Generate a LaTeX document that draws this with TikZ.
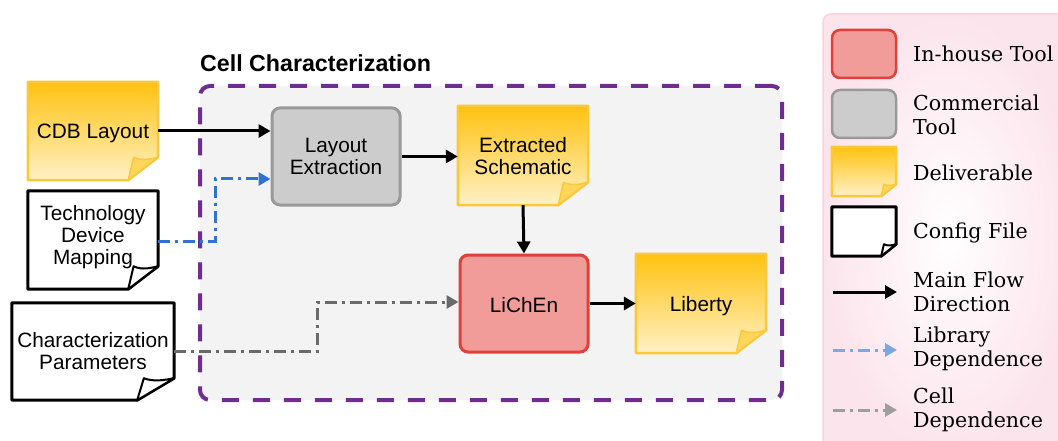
\documentclass[tikz,border=0pt]{standalone}
\usepackage{fontspec}
\setmainfont{Liberation Sans}
\newfontfamily\legfont{DejaVu Serif}
\usetikzlibrary{arrows.meta,calc}
\pgfdeclarelayer{back}\pgfdeclarelayer{mid}\pgfsetlayers{back,mid,main}
\definecolor{yelA}{HTML}{FFC20F}
\definecolor{yelB}{HTML}{FFF1C6}
\definecolor{yelE}{HTML}{F9C93A}
\definecolor{yelF}{HTML}{FFD65A}
\definecolor{redF}{HTML}{F19C99}
\definecolor{redE}{HTML}{E0403A}
\definecolor{grayF}{HTML}{CCCCCC}
\definecolor{grayE}{HTML}{999999}
\definecolor{purp}{HTML}{6F2D90}
\definecolor{contbg}{HTML}{F3F3F3}
\definecolor{blueA}{HTML}{2F72D0}
\definecolor{blueL}{HTML}{7BA7E3}
\definecolor{grayA}{HTML}{6A6A6A}
\definecolor{grayL}{HTML}{9E9E9E}
\definecolor{legE}{HTML}{F9D3DC}
\definecolor{legO}{HTML}{FCE4EC}
% #1 node, #2 fold width, #3 fold height, #4 body style, #5 flap style
\newcommand\foldshape[5]{%
  \begin{pgfonlayer}{mid}
  \path[#4] (#1.north west) -- (#1.north east) -- ([yshift=#3pt]#1.south east)
     -- ([xshift=-#2pt]#1.south east) -- (#1.south west) -- cycle;
  \path[#5] ([xshift=-#2pt]#1.south east) -- ([xshift={-0.82*#2pt},yshift=#3pt]#1.south east)
     .. controls ([xshift={-0.55*#2pt},yshift={0.82*#3pt}]#1.south east)
     and ([xshift={-0.25*#2pt},yshift={0.92*#3pt}]#1.south east) .. ([yshift=#3pt]#1.south east) -- cycle;
  \end{pgfonlayer}}
\tikzset{
  txt/.style={font=\fontsize{20.8}{22}\selectfont, align=center, inner sep=0pt},
  legtxt/.style={font=\legfont\fontsize{20.6}{24}\selectfont, align=left, anchor=west, inner sep=0pt},
  tool/.style={txt, rounded corners=8pt, line width=3pt, minimum width=128pt, minimum height=97pt},
  inhouse/.style={tool, fill=redF, draw=redE},
  commercial/.style={tool, fill=grayF, draw=grayE},
  docbox/.style={txt, minimum width=130pt, minimum height=98pt},
  delivbody/.style={top color=yelA, bottom color=yelB, draw=yelE, line width=2.5pt, line join=round},
  delivflap/.style={fill=yelF, draw=yelE, line width=1.5pt, line join=round},
  cfgbody/.style={fill=white, draw=black, line width=3pt, line join=round},
  cfgflap/.style={fill=white, draw=black, line width=2pt, line join=round},
  tipA/.style={-{Triangle[length=12pt,width=13pt]}},
  mainflow/.style={draw=black, line width=3pt, tipA},
  libdep/.style={draw=blueA, line width=3pt, dash pattern=on 12pt off 5pt on 3pt off 5pt, tipA},
  celldep/.style={draw=grayA, line width=3pt, dash pattern=on 12pt off 5pt on 3pt off 5pt, tipA},
  liblegend/.style={libdep, draw=blueL},
  celllegend/.style={celldep, draw=grayL},
  container/.style={rounded corners=10pt, fill=contbg, draw=purp, line width=4pt,
     dash pattern=on 17pt off 14pt, minimum width=582pt, minimum height=314pt},
}
\begin{document}
\begin{tikzpicture}[x=1pt,y=-1pt]
\useasboundingbox (0,0) rectangle (1058,441);
% legend background
\begin{pgfonlayer}{back}
\path[rounded corners=8pt, inner color=white, outer color=legO, draw=legE, line width=1.5pt]
   (823,14) rectangle (1075,455);
\node[container] (cc) at (491,243) {};
\end{pgfonlayer}
\node[font=\bfseries\fontsize{23.2}{26}\selectfont, anchor=west, inner sep=0pt] (title) at (200,63) {Cell Characterization};

% inputs
\node[docbox] (cdb) at (93,131) {};
\foldshape{cdb}{30}{23}{delivbody}{delivflap}
\node[txt] (cdbT) at ([yshift=-2pt]cdb.center) {CDB Layout};
\node[docbox] (tdm) at (93,240) {};
\foldshape{tdm}{30}{23}{cfgbody}{cfgflap}
\node[txt] (tdmT) at ([yshift=3pt]tdm.center) {Technology\\Device\\Mapping};
\node[docbox, minimum width=162pt, minimum height=97pt] (cp) at (93,351.5) {};
\foldshape{cp}{37}{22}{cfgbody}{cfgflap}
\node[txt] (cpT) at (cp.center) {Characterization\\Parameters};

% flow
\node[commercial] (le) at (336,156.5) {};
\node[txt] (leT) at (le.center) {Layout\\Extraction};
\node[docbox, minimum height=99pt] (es) at (523,155.5) {};
\foldshape{es}{30}{23}{delivbody}{delivflap}
\node[txt] (esT) at ([yshift=-1pt]es.center) {Extracted\\Schematic};
\node[inhouse] (lic) at (524,303.5) {};
\node[txt] (licT) at ([yshift=-1.5pt]lic.center) {LiChEn};
\node[docbox, minimum height=99pt] (lib) at (701,303.5) {};
\foldshape{lib}{30}{23}{delivbody}{delivflap}
\node[txt] (libT) at ([yshift=-2.5pt]lib.center) {Liberty};

\draw[mainflow] (cdb.east) -- (cdb.east -| le.west);
\draw[libdep] ([yshift=-1pt]tdm.east) -- ++(57,0) |- ([yshift=-22.5pt]le.west);
\draw[mainflow] (le.east) -- (le.east -| es.west);
\draw[mainflow] (es.south) -- (lic.north);
\draw[celldep] (cp.east) -- ++(143,0) |- ([yshift=1.5pt]lic.west);
\draw[mainflow] (lic.east) -- (lic.east -| lib.west);

% legend
\node[inhouse, minimum width=64pt, minimum height=48pt, line width=2.5pt] (lgA) at (864,54) {};
\node[legtxt] (lgAt) at (913,54) {In-house Tool};
\node[commercial, minimum width=64pt, minimum height=48pt, line width=2.5pt] (lgB) at (864,114) {};
\node[legtxt] (lgBt) at (913,114.5) {Commercial\\Tool};
\node[docbox, minimum width=64pt, minimum height=49pt] (lgC) at (864,171.5) {};
\foldshape{lgC}{15}{12}{delivbody}{delivflap}
\node[legtxt] (lgCt) at (913,173) {Deliverable};
\node[docbox, minimum width=64pt, minimum height=49pt] (lgD) at (864,231.5) {};
\foldshape{lgD}{15}{12}{cfgbody}{cfgflap}
\node[legtxt] (lgDt) at (913,233) {Config File};
\coordinate (mfA) at (833,292);
\coordinate (mfB) at (897,292);
\draw[mainflow] (mfA) -- (mfB);
\node[legtxt] (lgEt) at (913,291.5) {Main Flow\\Direction};
\coordinate (ldA) at (833,350);
\coordinate (ldB) at (897,350);
\draw[liblegend] (ldA) -- (ldB);
\node[legtxt] (lgFt) at (913,349) {Library\\Dependence};
\coordinate (cdA) at (833,410);
\coordinate (cdB) at (897,410);
\draw[celllegend] (cdA) -- (cdB);
\node[legtxt] (lgGt) at (913,410) {Cell\\Dependence};
\end{tikzpicture}
\end{document}
